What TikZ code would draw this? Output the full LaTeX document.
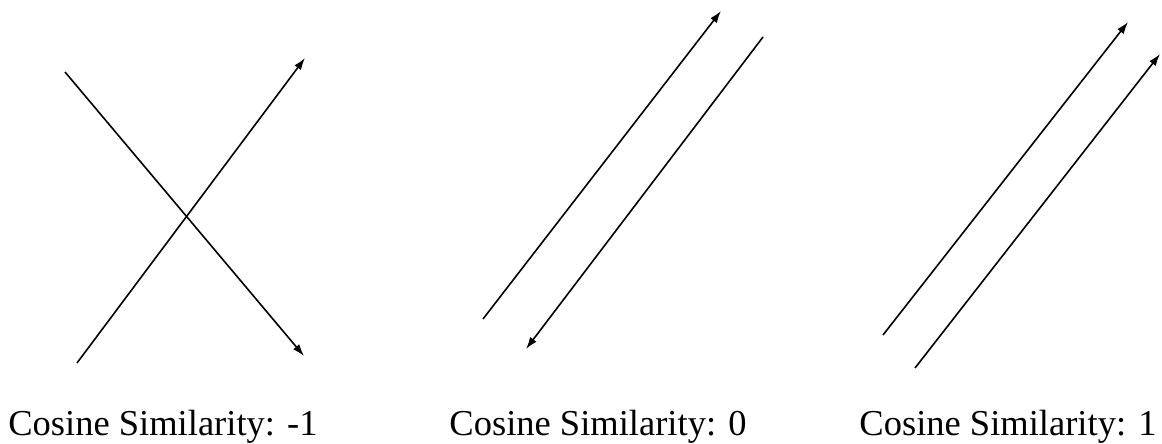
\documentclass[tikz,border=0pt]{standalone}
\usepackage{fontspec}
\setmainfont{Liberation Serif}
\usetikzlibrary{arrows.meta}
\begin{document}
\begin{tikzpicture}[x=1pt,y=-1pt,
  vec/.style={line width=1.6pt,-{Latex[length=12pt,width=8pt]}},
  caption/.style={anchor=base,inner sep=0pt,font=\fontsize{36.5}{40}\selectfont}]
\useasboundingbox (0,0) rectangle (1162,444);
% panel 1
\coordinate (a1) at (65,72);   \coordinate (a2) at (304,356);
\coordinate (b1) at (77,363);  \coordinate (b2) at (305,58);
% panel 2
\coordinate (c1) at (483,319); \coordinate (c2) at (721,11);
\coordinate (d1) at (763,37);  \coordinate (d2) at (526,349);
% panel 3
\coordinate (e1) at (883,335); \coordinate (e2) at (1128,22);
\coordinate (f1) at (915,368); \coordinate (f2) at (1160,54);
\draw[vec] (a1) -- (a2);
\draw[vec] (b1) -- (b2);
\draw[vec] (c1) -- (c2);
\draw[vec] (d1) -- (d2);
\draw[vec] (e1) -- (e2);
\draw[vec] (f1) -- (f2);
\node[caption] (t1) at (163,435) {Cosine Similarity: -1};
\node[caption] (t2) at (598,435) {Cosine Similarity: 0};
\node[caption] (t3) at (1008,435) {Cosine Similarity: 1};
\end{tikzpicture}
\end{document}
